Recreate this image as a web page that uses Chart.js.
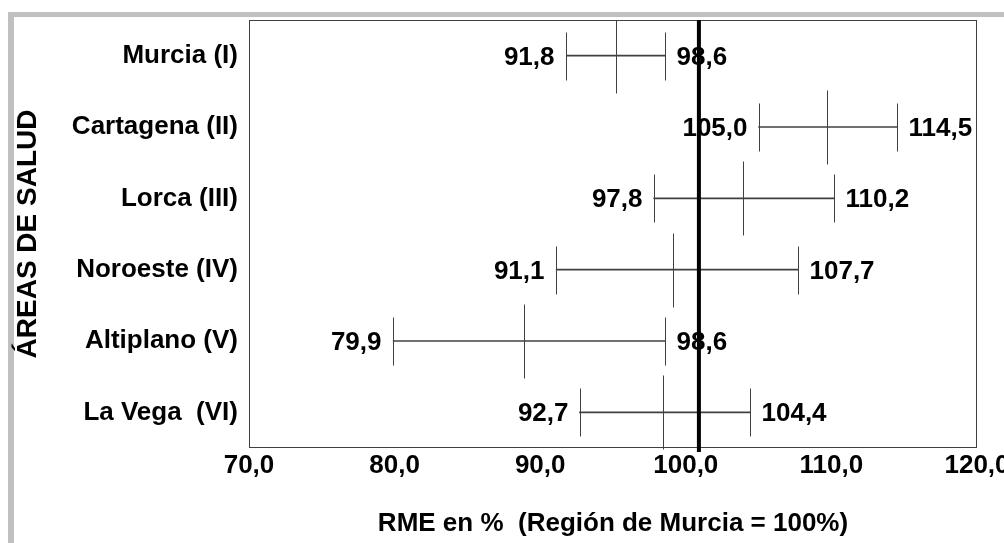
<!DOCTYPE html>
<html>
<head>
<meta charset="utf-8">
<script src="https://cdn.jsdelivr.net/npm/chart.js@4"></script>
<style>
  html, body { margin: 0; padding: 0; background: #fff; }
  #wrap { width: 1004px; height: 543px; position: relative; }
</style>
</head>
<body>
<div id="wrap"><canvas id="rmeChart"></canvas></div>
<script>
// Áreas de salud y RME (%) con su intervalo de confianza
const areas = ['Murcia (I)', 'Cartagena (II)', 'Lorca (III)', 'Noroeste (IV)', 'Altiplano (V)', 'La Vega  (VI)'];
const rmeLow = [91.8, 105.0, 97.8, 91.1, 79.9, 92.7];
const rmeHigh = [98.6, 114.5, 110.2, 107.7, 98.6, 104.4];
const rmePoint = [95.2, 109.7, 103.9, 99.1, 88.9, 98.4];
const refValue = 100.9;
const xMin = 70, xMax = 120, xStep = 10;

const fmt = v => v.toFixed(1).replace('.', ',');
const FONT = 'Liberation Sans, Arial, sans-serif';
const lineColor = '#404040';

const whiskers = {
    id: 'whiskers',
    beforeDraw(chart) {
        const ctx = chart.ctx;
        ctx.save();
        ctx.fillStyle = '#fff';
        ctx.fillRect(0, 0, chart.width, chart.height);
        // marco gris exterior
        ctx.fillStyle = '#c0c0c0';
        ctx.fillRect(8, 12, chart.width - 8, 5);
        ctx.fillRect(8, 12, 6, chart.height - 12);
        ctx.restore();
    },
    afterDatasetsDraw(chart) {
        const ctx = chart.ctx;
        const x = chart.scales.x, y = chart.scales.y;
        const a = chart.chartArea;
        ctx.save();
        // marco del área de trazado
        ctx.strokeStyle = lineColor;
        ctx.lineWidth = 1;
        ctx.strokeRect(a.left + 0.5, a.top + 0.5, a.right - a.left - 1, a.bottom - a.top - 1);

        ctx.font = 'bold 26px ' + FONT;
        ctx.fillStyle = '#000';
        ctx.textBaseline = 'middle';
        for (let i = 0; i < areas.length; i++) {
            const yc = Math.round(y.getPixelForValue(i)) + 0.5;
            const xl = Math.round(x.getPixelForValue(rmeLow[i])) + 0.5;
            const xh = Math.round(x.getPixelForValue(rmeHigh[i])) + 0.5;
            const xp = Math.round(x.getPixelForValue(rmePoint[i])) + 0.5;
            ctx.beginPath();
            ctx.moveTo(xl, yc - 24); ctx.lineTo(xl, yc + 24);
            ctx.moveTo(xh, yc - 24); ctx.lineTo(xh, yc + 24);
            ctx.moveTo(xp, Math.max(a.top, yc - 37)); ctx.lineTo(xp, yc + 37);
            ctx.stroke();
            ctx.textAlign = 'right';
            ctx.fillText(fmt(rmeLow[i]), xl - 12, yc + 1);
            ctx.textAlign = 'left';
            ctx.fillText(fmt(rmeHigh[i]), xh + 11, yc + 1);
        }
        // línea de referencia
        const xr = x.getPixelForValue(refValue);
        ctx.strokeStyle = '#000';
        ctx.lineWidth = 4;
        ctx.beginPath();
        ctx.moveTo(xr, a.top);
        ctx.lineTo(xr, a.bottom + 4);
        ctx.stroke();
        ctx.restore();
    }
};

new Chart(document.getElementById('rmeChart'), {
    type: 'bar',
    data: {
        labels: areas,
        datasets: [{
            label: 'RME',
            data: areas.map((_, i) => [rmeLow[i], rmeHigh[i]]),
            backgroundColor: lineColor,
            barThickness: 1
        }]
    },
    options: {
        indexAxis: 'y',
        responsive: true,
        maintainAspectRatio: false,
        animation: false,
        layout: { padding: { top: 20, right: 27, bottom: 0, left: 0 } },
        plugins: { legend: { display: false }, tooltip: { enabled: false } },
        scales: {
            x: {
                min: xMin,
                max: xMax,
                grid: { display: false, drawTicks: false },
                border: { display: false },
                ticks: {
                    stepSize: xStep,
                    autoSkip: false,
                    maxRotation: 0,
                    padding: 2,
                    color: '#000',
                    font: { family: FONT, size: 26, weight: 'bold' },
                    callback: v => fmt(v)
                },
                title: {
                    display: true,
                    text: 'RME en %  (Región de Murcia = 100%)',
                    color: '#000',
                    font: { family: FONT, size: 26, weight: 'bold' },
                    padding: { top: 4, bottom: 4 }
                },
                afterFit: s => { s.height = 95; s.paddingLeft = 0; s.paddingRight = 0; }
            },
            y: {
                grid: { display: false, drawTicks: false },
                border: { display: false },
                ticks: {
                    padding: 11,
                    color: '#000',
                    font: { family: FONT, size: 26, weight: 'bold' }
                },
                title: {
                    display: true,
                    text: 'ÁREAS DE SALUD',
                    color: '#000',
                    font: { family: FONT, size: 28, weight: 'bold' },
                    padding: { top: 11, bottom: 4 }
                },
                afterFit: s => { s.width = 249; s.paddingTop = 0; s.paddingBottom = 0; }
            }
        }
    },
    plugins: [whiskers]
});
</script>
</body>
</html>
